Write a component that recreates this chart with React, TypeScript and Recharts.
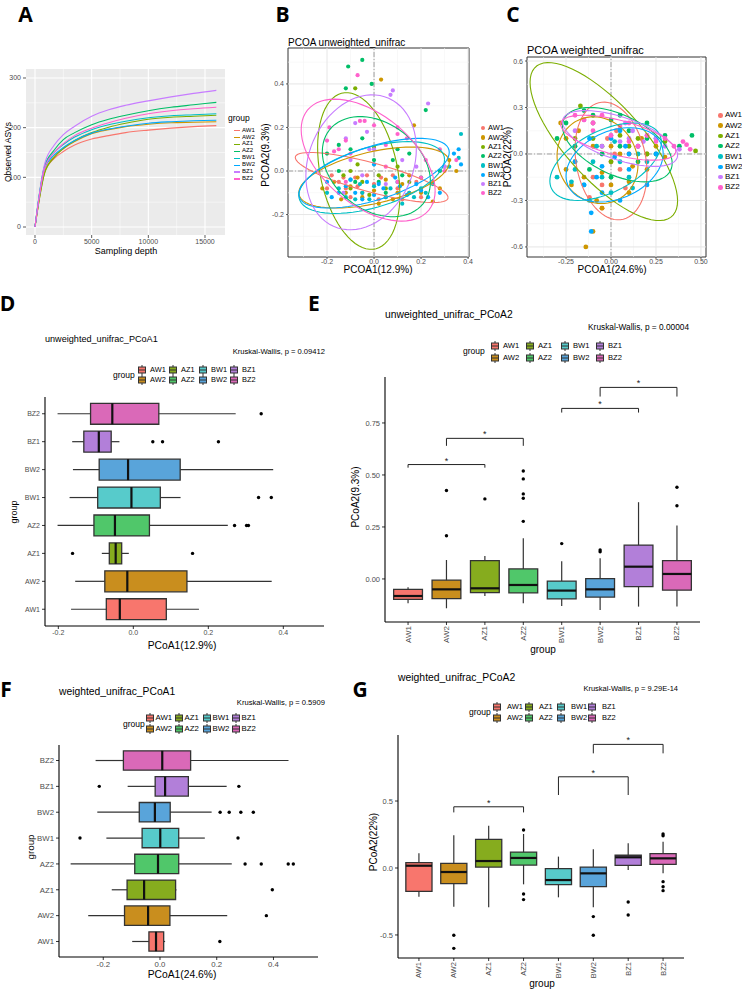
import React from 'react'
import {
  ComposedChart, Line, Scatter, XAxis, YAxis, ReferenceLine, ReferenceArea,
} from 'recharts'

const FONT = '"Liberation Sans", Arial, Helvetica, sans-serif'

const GROUPS = ['AW1', 'AW2', 'AZ1', 'AZ2', 'BW1', 'BW2', 'BZ1', 'BZ2']
const HUE = ['#F8766D', '#CD9600', '#7CAE00', '#00BE67', '#00BFC4', '#00A9FF', '#C77CFF', '#FF61CC']
const BOX_FILL = ['#F8766D', '#C98E1E', '#86AC1E', '#50C76A', '#57CBCB', '#59A4DA', '#B27FD9', '#DA69B8']

// ---- A: rarefaction curves
const DEPTH = [0, 850, 1700, 2500, 3500, 5000, 6500, 8000, 10000, 12000, 14000, 16000]
const RARE_AW1 = [0, 112, 138, 152, 165, 177, 184, 190, 195, 199, 202, 204]
const RARE_AW2 = [0, 110, 142, 158, 172, 188, 196, 202, 207, 210, 211, 212]
const RARE_AZ1 = [0, 108, 140, 158, 174, 190, 201, 209, 217, 221, 223, 225]
const RARE_AZ2 = [0, 122, 155, 176, 190, 206, 217, 225, 234, 241, 246, 251]
const RARE_BW1 = [0, 123, 150, 166, 181, 196, 206, 213, 220, 224, 226, 228]
const RARE_BW2 = [0, 118, 145, 160, 174, 189, 197, 203, 209, 212, 214, 215]
const RARE_BZ1 = [0, 127, 165, 186, 203, 223, 236, 245, 254, 262, 269, 275]
const RARE_BZ2 = [0, 118, 150, 168, 184, 199, 210, 219, 228, 234, 238, 241]
const RARE = [RARE_AW1, RARE_AW2, RARE_AZ1, RARE_AZ2, RARE_BW1, RARE_BW2, RARE_BZ1, RARE_BZ2]
const A_XTICKS = [0, 5000, 10000, 15000]
const A_XMINOR = [2500, 7500, 12500]
const A_YTICKS = [0, 100, 200, 300]
const A_YMINOR = [50, 150, 250]

// ---- B: PCoA unweighted unifrac (x, y per sample)
const B_POINTS = [
  [[-0.15, -0.05], [-0.12, -0.08], [-0.08, -0.03], [-0.05, -0.1], [0, -0.06], [0.05, -0.12], [0.1, -0.08], [0.15, -0.1], [0.2, -0.12], [-0.18, -0.02], [-0.1, -0.12], [0.08, -0.02], [0.25, -0.05], [-0.03, -0.02], [-0.2, -0.08], [-0.07, -0.07], [0.02, -0.13], [0.12, -0.13], [-0.13, -0.03], [0.18, -0.05], [0.03, -0.03]],
  [[0.03, 0.42], [0.17, 0.21], [0.32, 0.05], [0.35, 0.0], [0.3, 0.02], [-0.17, -0.05], [-0.1, -0.07], [-0.05, -0.12], [0, -0.09], [0.05, -0.04], [0.12, -0.06], [0.2, -0.1], [0.25, -0.14], [-0.12, -0.1], [0.08, -0.13], [-0.22, -0.08], [-0.07, -0.03], [0.02, -0.15], [0.15, -0.02], [0.28, -0.08], [-0.14, -0.13], [0.1, -0.1]],
  [[-0.08, 0.38], [0, 0.11], [-0.1, 0], [-0.05, -0.05], [0.05, -0.08], [-0.13, -0.02], [0.1, 0.02], [-0.02, -0.11], [0.15, -0.05], [-0.07, 0.03], [-0.1, -0.08], [0.02, -0.02]],
  [[-0.05, 0.51], [-0.11, 0.48], [-0.12, 0.38], [-0.01, 0.4], [0.22, 0.28], [-0.2, 0.08], [-0.15, 0.12], [-0.05, 0.15], [0.08, 0.05], [0.15, 0.08], [0.12, -0.02], [0.05, -0.1], [-0.08, -0.05], [0.2, -0.03], [0.28, 0], [0.02, -0.05], [-0.15, 0], [0, 0.05], [0.1, 0.1], [-0.1, 0.1]],
  [[0.37, 0.17], [0.32, 0.02], [0.36, 0.06], [-0.15, -0.08], [-0.1, -0.04], [-0.05, -0.1], [0, -0.07], [0.05, -0.12], [0.1, -0.05], [0.15, -0.1], [0.2, -0.08], [-0.08, -0.13], [0.12, -0.15], [0.25, -0.06], [-0.2, -0.1], [-0.12, -0.12], [-0.02, -0.13], [0.07, -0.08], [0.17, -0.12], [-0.06, -0.06], [0.22, -0.1]],
  [[0.36, 0.1], [0.37, 0.03], [0.34, 0.08], [-0.2, -0.05], [-0.12, -0.07], [-0.08, -0.1], [-0.03, -0.05], [0, -0.11], [0.04, -0.08], [0.09, -0.03], [0.14, -0.11], [0.18, -0.06], [0.23, -0.12], [-0.15, -0.1], [0, 0.03], [-0.18, -0.12], [-0.1, -0.04], [0.02, -0.06], [0.11, -0.07], [0.2, -0.09], [-0.05, -0.13], [0.28, -0.1]],
  [[0.08, 0.37], [0.07, 0.35], [0.23, 0.31], [-0.08, 0.22], [-0.03, 0.18], [0, 0.1], [0.12, 0.05], [-0.1, 0.05], [-0.05, -0.02], [0.05, -0.06], [-0.13, -0.1], [0.18, 0.02], [0.3, 0.02], [-0.02, 0.1], [-0.12, 0.15]],
  [[-0.07, 0.44], [-0.06, 0.23], [-0.04, 0.23], [-0.19, 0.2], [-0.2, 0.14], [-0.17, 0.09], [-0.12, 0.14], [0, 0.21], [0.1, 0.17], [0.14, 0.15], [0.28, 0.1], [0.35, 0.05], [0.3, 0], [0.2, -0.03], [-0.1, 0.08], [0.05, 0.02], [0.1, -0.05], [-0.12, -0.05], [0.1, 0.2], [-0.15, 0.1], [0.05, 0.12], [0.22, 0.05]],
]
// ellipse: centre x, centre y, half width, half height, correlation
const B_ELLIPSES = [
  [-0.01, -0.03, 0.325, 0.115, -0.8],
  [0, -0.03, 0.32, 0.14, 0.5],
  [-0.065, 0, 0.175, 0.36, -0.3],
  [0.01, 0.02, 0.23, 0.23, -0.3],
  [-0.01, -0.03, 0.31, 0.165, 0.5],
  [0, -0.01, 0.32, 0.16, 0.6],
  [-0.055, 0.04, 0.235, 0.31, 0.2],
  [-0.025, 0.05, 0.285, 0.28, -0.5],
]
const B_XTICKS = [-0.2, 0, 0.2, 0.4]
const B_XMINOR = [-0.3, -0.1, 0.1, 0.3]
const B_YTICKS = [-0.2, 0, 0.2, 0.4]
const B_YMINOR = [-0.3, -0.1, 0.1, 0.3, 0.5]

// ---- C: PCoA weighted unifrac
const C_POINTS = [
  [[0, -0.05], [-0.05, -0.2], [-0.1, -0.15], [0.05, -0.1], [0.1, 0], [-0.02, 0.1], [0.08, -0.22], [-0.12, -0.28], [0.15, 0.05], [0.03, 0.15], [-0.05, -0.35], [0.02, 0]],
  [[-0.14, -0.6], [-0.1, -0.5], [-0.28, 0.2], [-0.25, 0.1], [-0.2, -0.05], [-0.15, -0.15], [-0.1, 0.05], [-0.05, -0.12], [0, -0.2], [0.05, 0], [0.12, -0.08], [0.2, -0.1], [0.25, 0.05], [-0.18, 0.15], [0.1, -0.25], [-0.08, -0.3], [0.3, -0.02], [-0.22, -0.2], [0.17, 0.1], [-0.25, -0.1], [0, 0.05], [0.1, -0.18], [-0.05, -0.35], [0.2, 0]],
  [[-0.17, 0.31], [0.47, 0.02], [-0.05, 0.05], [0.05, 0.12], [0.15, 0.1], [-0.1, 0.2], [0.2, 0], [0, -0.05], [0.3, 0.08], [-0.2, 0.1], [0.1, 0.05], [-0.1, 0.1]],
  [[0.45, 0.12], [-0.3, 0.1], [-0.15, 0.28], [-0.1, 0.25], [0, 0.22], [0.1, 0.15], [0.2, 0.1], [0.3, 0.12], [0.38, 0.05], [0.05, 0.05], [-0.05, 0], [-0.2, 0.05], [0.15, -0.05], [0.25, 0], [0, -0.15], [-0.12, -0.1], [0.05, 0.25], [-0.25, 0.2], [0.2, 0.2]],
  [[-0.3, -0.15], [-0.2, -0.1], [-0.15, -0.2], [-0.1, -0.05], [-0.05, -0.15], [0, -0.25], [0.05, -0.05], [0.1, -0.15], [0.2, -0.05], [0.25, 0.1], [-0.08, 0.05], [0.02, 0.08], [-0.22, -0.18], [0.12, -0.22], [-0.12, -0.3], [0.15, 0]],
  [[-0.11, -0.5], [-0.11, -0.38], [-0.2, -0.05], [-0.12, 0.1], [-0.05, -0.08], [0, 0.1], [0.02, -0.02], [0.05, 0.15], [0.1, -0.1], [0.15, 0.05], [0.2, -0.2], [0.25, 0], [-0.15, -0.2], [0.05, -0.3], [0.08, 0.05], [-0.05, -0.25], [0.1, 0], [-0.08, -0.15]],
  [[-0.2, 0.15], [-0.1, 0.2], [0, 0.12], [0.05, 0.08], [0.1, 0.1], [0.15, 0.05], [0.2, 0.12], [0.3, 0.05], [0.38, 0.03], [-0.05, 0.05], [0.12, 0.15], [0.25, 0.1], [0.08, 0.2], [0.18, 0.08], [-0.15, 0.22]],
  [[0.42, 0.06], [0.44, 0.03], [0.4, 0.08], [-0.2, 0.25], [-0.15, 0.22], [-0.1, 0.15], [0, 0.12], [0.05, 0.18], [0.1, 0.08], [0.2, 0.12], [0.3, 0.1], [0.35, 0.05], [-0.05, 0.25], [0.15, 0.05], [0.1, 0.2], [-0.1, 0.2], [0.25, 0.08]],
]
const C_ELLIPSES = [
  [0, -0.045, 0.2, 0.38, -0.2],
  [-0.075, -0.04, 0.225, 0.28, -0.1],
  [-0.04, 0.08, 0.41, 0.51, -0.75],
  [0.035, 0.06, 0.305, 0.24, -0.5],
  [-0.03, -0.05, 0.31, 0.25, 0.5],
  [0.02, -0.07, 0.27, 0.24, 0.3],
  [0.05, 0.1, 0.32, 0.18, -0.6],
  [0.04, 0.105, 0.32, 0.145, -0.6],
]
const C_XTICKS = [-0.25, 0, 0.25, 0.5]
const C_XMINOR = [-0.375, -0.125, 0.125, 0.375]
const C_YTICKS = [-0.6, -0.3, 0, 0.3, 0.6]
const C_YMINOR = [-0.45, -0.15, 0.15, 0.45]

// ---- D: unweighted_unifrac_PCoA1 boxplot stats
const D_LO = [-0.166, -0.155, -0.084, -0.202, -0.17, -0.161, -0.163, -0.202]
const D_Q1 = [-0.072, -0.076, -0.064, -0.105, -0.095, -0.091, -0.132, -0.114]
const D_MED = [-0.036, -0.016, -0.047, -0.049, -0.005, -0.014, -0.092, -0.056]
const D_Q3 = [0.088, 0.143, -0.031, 0.043, 0.072, 0.125, -0.059, 0.068]
const D_HI = [0.175, 0.369, -0.012, 0.252, 0.126, 0.373, -0.037, 0.273]
const D_OUT = [[3, -0.162], [3, 0.158], [4, 0.27], [4, 0.302], [4, 0.307], [5, 0.334], [5, 0.368], [7, 0.052], [7, 0.078], [7, 0.227], [8, 0.341]]

// ---- E: unweighted_unifrac_PCoA2
const E_LO = [-0.117, -0.141, -0.082, -0.117, -0.13, -0.149, -0.133, -0.133]
const E_Q1 = [-0.098, -0.095, -0.066, -0.067, -0.096, -0.087, -0.037, -0.054]
const E_MED = [-0.082, -0.05, -0.045, -0.029, -0.056, -0.05, 0.059, 0.024]
const E_Q3 = [-0.05, -0.006, 0.088, 0.048, -0.01, 0.002, 0.163, 0.088]
const E_HI = [-0.04, 0.091, 0.11, 0.196, 0.085, 0.1, 0.369, 0.257]
const E_OUT = [[2, 0.425], [2, 0.208], [3, 0.385], [4, 0.519], [4, 0.481], [4, 0.409], [4, 0.388], [4, 0.277], [5, 0.17], [6, 0.139], [6, 0.131], [8, 0.441], [8, 0.352]]
// bracket: from group, to group, bar height, leg end
const E_SIG = [[1, 3, 0.55, 0.535], [2, 4, 0.676, 0.64], [5, 7, 0.82, 0.8], [6, 8, 0.921, 0.877]]

// ---- F: weighted_unifrac_PCoA1
const F_LO = [-0.098, -0.253, -0.17, -0.315, -0.189, -0.221, -0.114, -0.227]
const F_Q1 = [-0.039, -0.125, -0.116, -0.089, -0.063, -0.073, -0.017, -0.129]
const F_MED = [-0.014, -0.042, -0.056, -0.007, 0.001, -0.018, 0.018, 0.008]
const F_Q3 = [0.013, 0.035, 0.055, 0.066, 0.066, 0.036, 0.1, 0.108]
const F_HI = [0.018, 0.237, 0.058, 0.253, 0.158, 0.182, 0.235, 0.453]
const F_OUT = [[1, 0.211], [2, 0.375], [3, 0.396], [4, 0.3], [4, 0.357], [4, 0.452], [4, 0.47], [5, -0.282], [5, 0.275], [6, 0.212], [6, 0.244], [6, 0.285], [6, 0.329], [7, -0.214], [7, 0.278]]

// ---- G: weighted_unifrac_PCoA2
const G_LO = [-0.214, -0.289, -0.293, -0.122, -0.219, -0.293, -0.015, -0.04]
const G_Q1 = [-0.174, -0.117, 0.007, 0.022, -0.124, -0.139, 0.02, 0.027]
const G_MED = [0.017, -0.03, 0.052, 0.075, -0.09, -0.04, 0.08, 0.072]
const G_Q3 = [0.04, 0.035, 0.214, 0.119, -0.005, 0.007, 0.095, 0.107]
const G_HI = [0.11, 0.244, 0.316, 0.254, 0.085, 0.14, 0.184, 0.196]
const G_OUT = [[2, -0.502], [2, -0.6], [4, 0.284], [4, -0.194], [4, -0.236], [6, -0.363], [6, -0.502], [7, -0.254], [7, -0.351], [8, 0.254], [8, 0.241], [8, -0.102], [8, -0.14], [8, -0.169]]
const G_SIG = [[2, 4, 0.457, 0.415], [5, 7, 0.681, 0.545], [6, 8, 0.923, 0.856]]

const POS_TICKS = [1, 2, 3, 4, 5, 6, 7, 8]
const fmt1 = (v: number) => v.toFixed(1)
const fmt2 = (v: number) => v.toFixed(2)
const grp = (v: number) => GROUPS[Math.round(v) - 1]

const rareTable = DEPTH.map((d, i) => {
  const row: any = { depth: d }
  GROUPS.forEach((g, k) => { row[g] = RARE[k][i] })
  return row
})

// stat_ellipse outline from its read-off centre / extents / tilt
function ellipsePts([cx, cy, rx, ry, rho]: number[]) {
  const phi = Math.asin(rho)
  const pts = []
  for (let i = 0; i <= 72; i++) {
    const t = (i / 72) * Math.PI * 2
    pts.push({ x: cx + rx * Math.cos(t), y: cy + ry * Math.sin(t + phi) })
  }
  return pts
}

const dot = (c: string, r: number) => (p: any) => <circle cx={p.cx} cy={p.cy} r={r} fill={c} />
const noShape = () => <g />
const star = (p: any) => (
  <text x={p.cx} y={p.cy - 1} textAnchor="middle" fontSize={9} fontFamily={FONT} fill="#222">*</text>
)

function Txt({ x, y, size = 8, anchor = 'start', rot = false, bold = false, color = '#000', family = FONT, lh = 1.3, children }: any) {
  const tx = anchor === 'middle' ? '-50%' : anchor === 'end' ? '-100%' : '0'
  return (
    <div style={{
      position: 'absolute', left: x, top: y, fontSize: size, fontFamily: family, lineHeight: lh,
      fontWeight: bold ? 700 : 400, color, whiteSpace: 'nowrap',
      transform: rot ? 'translate(-50%,-50%) rotate(-90deg)' : `translate(${tx},-50%)`,
    }}>
      {children}
    </div>
  )
}

function RotTick(props: any) {
  const { x, y, payload, size } = props
  return (
    <text transform={`translate(${x},${y}) rotate(-90)`} textAnchor="end" dominantBaseline="central"
      fontSize={size} fill="#4D4D4D" fontFamily={FONT}>
      {grp(payload.value)}
    </text>
  )
}

const WY = 40, HX = 40, PAD = 8

function Frame(p: any) {
  const left = p.x0 - WY, top = p.y0 - PAD
  const w = p.x1 - left + PAD, h = p.y1 - top + HX
  const axisLine = p.classic ? { stroke: '#000', strokeWidth: 1.1 } : false
  const tickLine = { stroke: p.classic ? '#000' : '#333', strokeWidth: 0.8 }
  const tick = { fontSize: p.tickSize ?? 7, fill: '#4D4D4D', fontFamily: FONT }
  const tl = p.tickLen ?? 3
  return (
    <div style={{ position: 'absolute', left, top }}>
      <ComposedChart width={w} height={h} data={p.data} margin={{ top: PAD, right: PAD, bottom: 0, left: 0 }}>
        <XAxis type="number" dataKey={p.xKey ?? 'x'} domain={p.xDomain} ticks={p.xTicks} allowDataOverflow
          height={HX} axisLine={axisLine} tickLine={tickLine} tickSize={tl} tickMargin={p.xMargin ?? 1} interval={0}
          tick={p.xTickEl ?? tick} tickFormatter={p.xFmt} />
        <YAxis type="number" dataKey={p.yKey} domain={p.yDomain} ticks={p.yTicks} allowDataOverflow
          width={WY} axisLine={axisLine} tickLine={tickLine} tickSize={tl} tickMargin={2} interval={0}
          tick={tick} tickFormatter={p.yFmt} />
        {p.children}
      </ComposedChart>
    </div>
  )
}

function pcoaLayers(xd: number[], yd: number[], xt: number[], xm: number[], yt: number[], ym: number[], points: number[][][], ells: number[][], r: number) {
  return [
    ...xm.map((v) => <ReferenceLine key={'xm' + v} x={v} stroke="#F3F3F3" strokeWidth={0.6} />),
    ...ym.map((v) => <ReferenceLine key={'ym' + v} y={v} stroke="#F3F3F3" strokeWidth={0.6} />),
    ...xt.map((v) => <ReferenceLine key={'xt' + v} x={v} stroke="#E6E6E6" strokeWidth={1} />),
    ...yt.map((v) => <ReferenceLine key={'yt' + v} y={v} stroke="#E6E6E6" strokeWidth={1} />),
    <ReferenceLine key="zx" x={0} stroke="#9A9A9A" strokeDasharray="5 2 1 2" strokeWidth={0.9} />,
    <ReferenceLine key="zy" y={0} stroke="#9A9A9A" strokeDasharray="5 2 1 2" strokeWidth={0.9} />,
    ...points.map((pts, i) => (
      <Scatter key={'p' + i} data={pts.map(([x, y]) => ({ x, y }))} shape={dot(HUE[i], r)} isAnimationActive={false} />
    )),
    ...ells.map((e, i) => (
      <Scatter key={'e' + i} data={ellipsePts(e)} line={{ stroke: HUE[i], strokeWidth: 1.1 }} lineType="joint"
        shape={noShape} isAnimationActive={false} />
    )),
    <ReferenceArea key="border" x1={xd[0]} x2={xd[1]} y1={yd[0]} y2={yd[1]} fill="none" stroke="#333" strokeWidth={1} />,
  ]
}

// boxes; horiz = value on x axis
function boxLayers(lo: number[], q1: number[], med: number[], q3: number[], hi: number[], out: number[][], horiz: boolean) {
  const P = (p: number, v: number) => (horiz ? { x: v, y: p } : { x: p, y: v })
  const layers: any[] = []
  GROUPS.forEach((g, i) => {
    const p = i + 1
    layers.push(<ReferenceLine key={'wl' + i} segment={[P(p, lo[i]), P(p, q1[i])]} stroke="#333" strokeWidth={1.2} />)
    layers.push(<ReferenceLine key={'wh' + i} segment={[P(p, q3[i]), P(p, hi[i])]} stroke="#333" strokeWidth={1.2} />)
    layers.push(horiz
      ? <ReferenceArea key={'b' + i} x1={q1[i]} x2={q3[i]} y1={p - 0.375} y2={p + 0.375} fill={BOX_FILL[i]} fillOpacity={1} stroke="#333" strokeWidth={1.3} />
      : <ReferenceArea key={'b' + i} x1={p - 0.375} x2={p + 0.375} y1={q1[i]} y2={q3[i]} fill={BOX_FILL[i]} fillOpacity={1} stroke="#333" strokeWidth={1.3} />)
    layers.push(<ReferenceLine key={'m' + i} segment={[P(p - 0.375, med[i]), P(p + 0.375, med[i])].map((o) => (horiz ? { x: med[i], y: o.y } : { x: o.x, y: med[i] }))} stroke="#111" strokeWidth={2.2} />)
  })
  layers.push(<Scatter key="out" data={out.map(([p, v]) => P(p, v))} shape={dot('#000', 1.7)} isAnimationActive={false} />)
  return layers
}

function sigLayers(sig: number[][]) {
  const layers: any[] = []
  sig.forEach(([a, b, top, leg], i) => {
    layers.push(<ReferenceLine key={'s' + i} segment={[{ x: a, y: top }, { x: b, y: top }]} stroke="#222" strokeWidth={1} />)
    layers.push(<ReferenceLine key={'sa' + i} segment={[{ x: a, y: top }, { x: a, y: leg }]} stroke="#222" strokeWidth={1} />)
    layers.push(<ReferenceLine key={'sb' + i} segment={[{ x: b, y: top }, { x: b, y: leg }]} stroke="#222" strokeWidth={1} />)
  })
  layers.push(<Scatter key="stars" data={sig.map(([a, b, top]) => ({ x: (a + b) / 2, y: top }))} shape={star} isAnimationActive={false} />)
  return layers
}

function BoxKey({ fill }: { fill: string }) {
  return (
    <svg width={8} height={10} style={{ display: 'block' }}>
      <line x1={4} x2={4} y1={0} y2={10} stroke="#333" strokeWidth={1} />
      <rect x={0.5} y={2} width={7} height={6} fill={fill} stroke="#333" strokeWidth={1} />
      <line x1={0.5} x2={7.5} y1={5} y2={5} stroke="#333" strokeWidth={1} />
    </svg>
  )
}

function BoxLegend({ tx, ty, keys, rows, dx, size }: any) {
  return (
    <>
      <Txt x={tx} y={ty} size={8.5}>group</Txt>
      {GROUPS.map((g, i) => {
        const kx = keys[Math.floor(i / 2)], ky = rows[i % 2]
        return (
          <React.Fragment key={g}>
            <div style={{ position: 'absolute', left: kx, top: ky - 5 }}><BoxKey fill={BOX_FILL[i]} /></div>
            <Txt x={kx + dx} y={ky} size={size}>{g}</Txt>
          </React.Fragment>
        )
      })}
    </>
  )
}

const LETTER = '"Open Sans", "DejaVu Sans", sans-serif'

export default function App() {
  return (
    <div style={{ position: 'absolute', left: 0, top: 0, width: 742, height: 991, background: '#fff', overflow: 'hidden', fontFamily: FONT }}>
      {/* A */}
      <Frame x0={26} y0={69} x1={225} y1={235} xDomain={[-794, 16765]} yDomain={[-16.1, 318.1]}
        xTicks={A_XTICKS} yTicks={A_YTICKS} data={rareTable} xKey="depth" tickSize={7}>
        <ReferenceArea x1={-794} x2={16765} y1={-16.1} y2={318.1} fill="#EBEBEB" fillOpacity={1} stroke="none" />
        {A_XMINOR.map((v) => <ReferenceLine key={'am' + v} x={v} stroke="#fff" strokeWidth={0.5} />)}
        {A_YMINOR.map((v) => <ReferenceLine key={'ayn' + v} y={v} stroke="#fff" strokeWidth={0.5} />)}
        {A_XTICKS.map((v) => <ReferenceLine key={'ax' + v} x={v} stroke="#fff" strokeWidth={1.1} />)}
        {A_YTICKS.map((v) => <ReferenceLine key={'ay' + v} y={v} stroke="#fff" strokeWidth={1.1} />)}
        {GROUPS.map((g, i) => (
          <Line key={g} dataKey={g} stroke={HUE[i]} strokeWidth={1.1} dot={false} type="monotone" isAnimationActive={false} />
        ))}
      </Frame>
      <Txt x={126} y={252} size={9} anchor="middle">Sampling depth</Txt>
      <Txt x={9} y={152} size={8.5} rot>Observed ASVs</Txt>
      <Txt x={228} y={119} size={8.5}>group</Txt>
      {GROUPS.map((g, i) => (
        <React.Fragment key={'al' + g}>
          <div style={{ position: 'absolute', left: 234, top: 130 + i * 6.9, width: 6, height: 1.3, background: HUE[i] }} />
          <Txt x={242} y={130.6 + i * 6.9} size={6}>{g}</Txt>
        </React.Fragment>
      ))}

      {/* B */}
      <Frame x0={288} y0={48} x1={469} y1={257} xDomain={[-0.366, 0.404]} yDomain={[-0.395, 0.565]}
        xTicks={B_XTICKS} yTicks={B_YTICKS} xFmt={fmt1} yFmt={fmt1} yKey="y" tickSize={7} tickLen={2} xMargin={0}>
        {pcoaLayers([-0.366, 0.404], [-0.395, 0.565], B_XTICKS, B_XMINOR, B_YTICKS, B_YMINOR, B_POINTS, B_ELLIPSES, 2.1)}
      </Frame>
      <Txt x={288} y={42} size={10}>PCOA unweighted_unifrac</Txt>
      <Txt x={378} y={269} size={10} anchor="middle">PCOA1(12.9%)</Txt>
      <Txt x={265} y={155} size={10} rot>PCOA2(9.3%)</Txt>
      {GROUPS.map((g, i) => (
        <React.Fragment key={'bl' + g}>
          <div style={{ position: 'absolute', left: 481, top: 126 + i * 9.3, width: 4.4, height: 4.4, borderRadius: '50%', background: HUE[i] }} />
          <Txt x={488} y={128.3 + i * 9.3} size={7.5}>{g}</Txt>
        </React.Fragment>
      ))}

      {/* C */}
      <Frame x0={527} y0={57} x1={706} y1={257} xDomain={[-0.467, 0.528]} yDomain={[-0.665, 0.626]}
        xTicks={C_XTICKS} yTicks={C_YTICKS} xFmt={fmt2} yFmt={fmt1} yKey="y" tickSize={7} tickLen={2} xMargin={0}>
        {pcoaLayers([-0.467, 0.528], [-0.665, 0.626], C_XTICKS, C_XMINOR, C_YTICKS, C_YMINOR, C_POINTS, C_ELLIPSES, 2.4)}
      </Frame>
      <Txt x={527} y={50} size={11}>PCOA weighted_unifrac</Txt>
      <Txt x={612} y={269} size={10} anchor="middle">PCOA1(24.6%)</Txt>
      <Txt x={507} y={157} size={10} rot>PCOA2(22%)</Txt>
      {GROUPS.map((g, i) => (
        <React.Fragment key={'cl' + g}>
          <div style={{ position: 'absolute', left: 718, top: 113 + i * 10.3, width: 4.6, height: 4.6, borderRadius: '50%', background: HUE[i] }} />
          <Txt x={725} y={115.3 + i * 10.3} size={8}>{g}</Txt>
        </React.Fragment>
      ))}

      {/* D */}
      <Frame x0={45} y0={397} x1={324} y1={626} xDomain={[-0.2355, 0.5085]} yDomain={[0.4, 8.6]}
        xTicks={[-0.2, 0, 0.2, 0.4]} yTicks={POS_TICKS} xFmt={fmt1} yFmt={grp} yKey="y" classic tickSize={7}>
        {boxLayers(D_LO, D_Q1, D_MED, D_Q3, D_HI, D_OUT, true)}
      </Frame>
      <Txt x={45} y={340} size={9.1}>unweighted_unifrac_PCoA1</Txt>
      <Txt x={325} y={352} size={7.6} anchor="end">Kruskal-Wallis, p = 0.09412</Txt>
      <BoxLegend tx={113} ty={376} keys={[138, 169, 199, 230]} rows={[369.7, 379.7]} dx={12} size={7.4} />
      <Txt x={182} y={646} size={10.3} anchor="middle">PCoA1(12.9%)</Txt>
      <Txt x={15} y={512} size={9} rot>group</Txt>

      {/* E */}
      <Frame x0={385} y0={377} x1={700} y1={622} xDomain={[0.4, 8.6]} yDomain={[-0.207, 0.971]}
        xTicks={POS_TICKS} yTicks={[0, 0.25, 0.5, 0.75]} yFmt={fmt2} yKey="y" classic tickSize={7.5}
        xTickEl={<RotTick size={8} />}>
        {boxLayers(E_LO, E_Q1, E_MED, E_Q3, E_HI, E_OUT, false)}
        {sigLayers(E_SIG)}
      </Frame>
      <Txt x={385} y={315} size={10.3}>unweighted_unifrac_PCoA2</Txt>
      <Txt x={689} y={327} size={8.3} anchor="end">Kruskal-Wallis, p = 0.00004</Txt>
      <BoxLegend tx={463} ty={352} keys={[491, 526, 561, 596]} rows={[346.3, 358]} dx={12} size={7.6} />
      <Txt x={543} y={649} size={10} anchor="middle">group</Txt>
      <Txt x={355} y={497} size={10} rot>PCoA2(9.3%)</Txt>

      {/* F */}
      <Frame x0={59} y0={745} x1={318} y1={957} xDomain={[-0.356, 0.557]} yDomain={[0.4, 8.6]}
        xTicks={[-0.2, 0, 0.2, 0.4]} yTicks={POS_TICKS} xFmt={fmt1} yFmt={grp} yKey="y" classic tickSize={7.8}>
        {boxLayers(F_LO, F_Q1, F_MED, F_Q3, F_HI, F_OUT, true)}
      </Frame>
      <Txt x={59} y={692} size={10.3}>weighted_unifrac_PCoA1</Txt>
      <Txt x={325} y={703} size={7.6} anchor="end">Kruskal-Wallis, p = 0.5909</Txt>
      <BoxLegend tx={123} ty={725} keys={[146, 175, 203, 232]} rows={[718.3, 729.3]} dx={9.5} size={7.8} />
      <Txt x={182} y={975} size={10.3} anchor="middle">PCoA1(24.6%)</Txt>
      <Txt x={31} y={847} size={9.8} rot>group</Txt>

      {/* G */}
      <Frame x0={398} y0={735} x1={684} y1={958} xDomain={[0.4, 8.6]} yDomain={[-0.672, 0.993]}
        xTicks={POS_TICKS} yTicks={[-0.5, 0, 0.5]} yFmt={fmt1} yKey="y" classic tickSize={7.5}
        xTickEl={<RotTick size={7.5} />}>
        {boxLayers(G_LO, G_Q1, G_MED, G_Q3, G_HI, G_OUT, false)}
        {sigLayers(G_SIG)}
      </Frame>
      <Txt x={398} y={678} size={10.4}>weighted_unifrac_PCoA2</Txt>
      <Txt x={678} y={689} size={7.5} anchor="end">Kruskal-Wallis, p = 9.29E-14</Txt>
      <BoxLegend tx={469} ty={713} keys={[493, 525, 557, 588]} rows={[706.7, 717.7]} dx={14} size={7.5} />
      <Txt x={542} y={983} size={10} anchor="middle">group</Txt>
      <Txt x={373} y={842} size={10} rot>PCoA2(22%)</Txt>

      {/* panel letters */}
      <Txt x={25.5} y={15} size={21} bold family={LETTER} anchor="middle" lh={1.4}>A</Txt>
      <Txt x={282.5} y={15} size={21} bold family={LETTER} anchor="middle" lh={1.4}>B</Txt>
      <Txt x={513} y={15} size={21} bold family={LETTER} anchor="middle" lh={1.4}>C</Txt>
      <Txt x={7.5} y={304} size={21} bold family={LETTER} anchor="middle" lh={1.4}>D</Txt>
      <Txt x={314} y={304} size={21} bold family={LETTER} anchor="middle" lh={1.4}>E</Txt>
      <Txt x={6} y={689.5} size={21} bold family={LETTER} anchor="middle" lh={1.4}>F</Txt>
      <Txt x={360} y={690} size={21} bold family={LETTER} anchor="middle" lh={1.4}>G</Txt>
    </div>
  )
}
